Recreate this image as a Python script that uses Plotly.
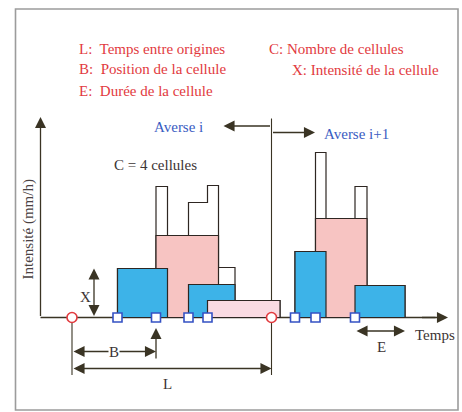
import plotly.graph_objects as go

# ---- data (time and intensity in arbitrary diagram units) ----
cell_start = [77, 115.5, 148, 167, 254.5, 275, 314.5]
cell_duration = [50, 62.5, 46.5, 72.5, 31, 51.5, 50]
cell_intensity = [49, 82, 33, 17, 66, 99, 32]
cell_storm = [0, 0, 0, 0, 1, 1, 1]
cell_kind = ["blue", "pink", "blue", "light", "blue", "pink", "blue"]
storm_origin = [31.5, 231]

legend_left = ["L:  Temps entre origines", "B:  Position de la cellule", "E:  Durée de la cellule"]
legend_right = ["C: Nombre de cellules", "X: Intensité de la cellule"]

COL = {"blue": "#3db3e8", "pink": "#f7c4c2", "light": "#fadbe2"}
EDGE = "#2e2622"
ARROW = "#3a3424"
RED = "#e23a3e"
BLUE_T = "#3a5cc2"
DARK = "#3c3434"
FONT = "'Liberation Serif', 'Times New Roman', 'DejaVu Serif', serif"

W, H = 462, 412
xr = [-40.5, 421.5]
yr = [-94.5, 317.5]

fig = go.Figure()

# storm origin vertical guide lines (behind everything)
fig.add_trace(go.Scatter(x=[storm_origin[0], storm_origin[0]], y=[0, -57.5], mode="lines",
                         line=dict(color=ARROW, width=1.1), hoverinfo="skip"))
fig.add_trace(go.Scatter(x=[storm_origin[1], storm_origin[1]], y=[199, -57.5], mode="lines",
                         line=dict(color=ARROW, width=1.1), hoverinfo="skip"))
# baseline
fig.add_trace(go.Scatter(x=[0, 395], y=[0, 0], mode="lines",
                         line=dict(color=ARROW, width=1.3), hoverinfo="skip"))

# total-intensity profile of each storm (white outline)
for s in sorted(set(cell_storm)):
    idx = [i for i in range(len(cell_start)) if cell_storm[i] == s]
    pts = sorted(set([cell_start[i] for i in idx] + [cell_start[i] + cell_duration[i] for i in idx]))
    px, py = [pts[0]], [0]
    for a, b in zip(pts[:-1], pts[1:]):
        m = (a + b) / 2
        tot = sum(cell_intensity[i] for i in idx
                  if cell_start[i] <= m <= cell_start[i] + cell_duration[i])
        px += [a, b]
        py += [tot, tot]
    px.append(pts[-1]); py.append(0)
    fig.add_trace(go.Scatter(x=px, y=py, mode="lines", fill="toself", fillcolor="white",
                             line=dict(color=EDGE, width=1.2), hoverinfo="skip"))

# cells, tallest drawn first
order = sorted(range(len(cell_start)), key=lambda i: (cell_storm[i], -cell_intensity[i]))
for i in order:
    s0, s1, h = cell_start[i], cell_start[i] + cell_duration[i], cell_intensity[i]
    fig.add_trace(go.Scatter(x=[s0, s0, s1, s1, s0], y=[0, h, h, 0, 0], mode="lines",
                             fill="toself", fillcolor=COL[cell_kind[i]],
                             line=dict(color=EDGE, width=1.2), hoverinfo="skip"))

# markers: cell origins and storm origins
fig.add_trace(go.Scatter(x=cell_start, y=[0] * len(cell_start), mode="markers",
                         marker=dict(symbol="square", size=9, color="white",
                                     line=dict(color="#3552c4", width=1.6)), hoverinfo="skip"))
fig.add_trace(go.Scatter(x=storm_origin, y=[0] * len(storm_origin), mode="markers",
                         marker=dict(symbol="circle", size=10, color="white",
                                     line=dict(color=RED, width=1.6)), hoverinfo="skip"))

ann = []


def arrow(x0, y0, x1, y1, both=False):
    ann.append(dict(x=x1, y=y1, ax=x0, ay=y0, xref="x", yref="y", axref="x", ayref="y",
                    text="", showarrow=True, arrowhead=2, arrowsize=1.7, arrowwidth=1.3,
                    arrowcolor=ARROW, standoff=0, startstandoff=0,
                    arrowside="end+start" if both else "end", startarrowhead=2, startarrowsize=1.7))


def ptext(txt, px, py, color=DARK, xanchor="center", size=15, angle=0, bg=None):
    d = dict(x=px / W, y=1 - py / H, xref="paper", yref="paper", text=txt, showarrow=False,
             xanchor=xanchor, yanchor="middle", textangle=angle,
             font=dict(family=FONT, size=size, color=color))
    if bg:
        d["bgcolor"] = bg
        d["borderpad"] = 0
    ann.append(d)


# axes arrows
arrow(0, 0, 0, 200.5)
arrow(380, 0, 407.5, 0)
# Averse arrows
arrow(storm_origin[1], 191.5, 183, 191.5)
arrow(storm_origin[1], 185, 274.5, 185)
# X arrow (cell 1 intensity)
arrow(53.5, 0, 53.5, cell_intensity[0], both=True)
# B arrow and cell marker arrow
arrow(storm_origin[0], -34, cell_start[1], -34, both=True)
arrow(cell_start[1], -42.5, cell_start[1], -10.5)
# L arrow
arrow(storm_origin[0], -51, storm_origin[1], -51, both=True)
# E arrow (duration of last cell)
arrow(cell_start[6], -13.5, cell_start[6] + cell_duration[6], -13.5, both=True)

# legend texts
for k, t in enumerate(legend_left):
    ptext(t, 76.5, [48.5, 69.5, 91][k], color=RED, xanchor="left")
ptext(legend_right[0], 266.5, 49, color=RED, xanchor="left")
ptext(legend_right[1], 290, 70, color=RED, xanchor="left")

ptext("Averse i", 178.5, 127, color=BLUE_T)
ptext("Averse i+1", 356.5, 133.5, color=BLUE_T)
ptext("C = 4 cellules", 155, 165)
ptext("Intensité (mm/h)", 27.5, 230, color="#4a4242", angle=-90)
ptext("X", 85, 296.5)
ptext("B", 114, 352, bg="white")
ptext("L", 167, 383.5)
ptext("E", 381, 347)
ptext("Temps", 413, 334.5, xanchor="left")

fig.update_layout(
    width=W, height=H, margin=dict(l=0, r=0, t=0, b=0),
    paper_bgcolor="white", plot_bgcolor="white", showlegend=False,
    font=dict(family=FONT),
    xaxis=dict(range=xr, visible=False, fixedrange=True),
    yaxis=dict(range=yr, visible=False, fixedrange=True),
    annotations=ann,
    shapes=[dict(type="rect", xref="paper", yref="paper", x0=15.5 / W, x1=458 / W,
                 y0=1 - 410 / H, y1=1 - 9 / H, line=dict(color="#9c9c9c", width=1.6),
                 layer="below")],
)

fig.write_html("out.html", config={"displayModeBar": False},
               post_script="document.body.style.margin='0';document.body.style.overflow='hidden';")
